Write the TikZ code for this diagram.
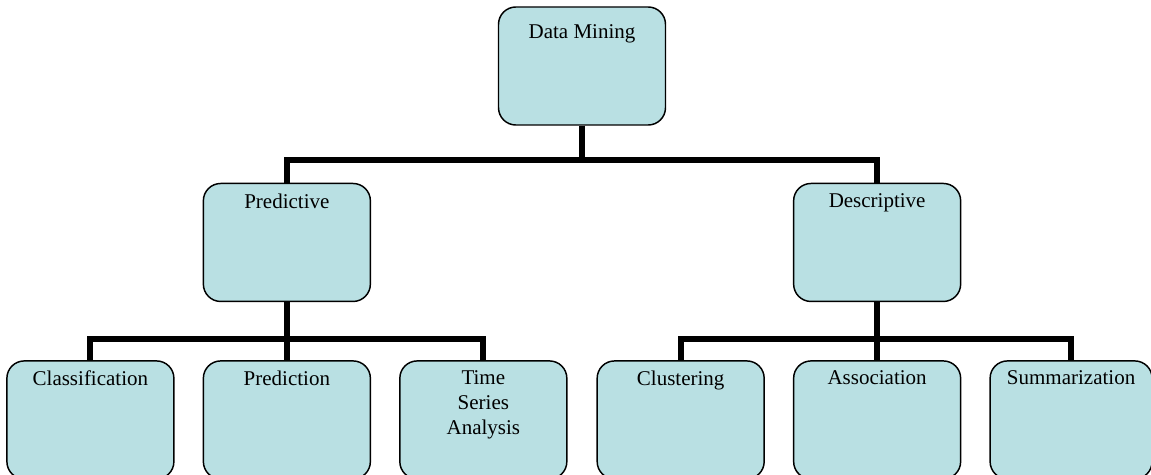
\documentclass[tikz,border=0pt]{standalone}
\usepackage{fontspec}
\setmainfont{Liberation Serif}
\usetikzlibrary{positioning}
\definecolor{boxfill}{RGB}{185,224,227}

\begin{document}
\begin{tikzpicture}[
    x = 0.75pt, y = -0.75pt, % one unit = one pixel of the reference
    node distance = 42.75pt and 21pt, % gaps between boxes
    box/.style = {draw = black, line width = 1.1pt, fill = boxfill,
        rounded corners = 13pt, minimum width = 125.25pt, minimum height = 88.5pt,
        label = {[anchor = north, yshift = -4.5pt, align = center,
            font = \fontsize{15.75pt}{18.75pt}\selectfont]north:#1}},
    link/.style = {line width = 4.5pt} % connector style
    ]

    \useasboundingbox (0,0) rectangle (1151,474);

    \node[box = {\rule{0pt}{16pt}Data Mining}] (dm) at (582,66) {};
    \node[box = {Predictive}] (pred) [below left = 42.75pt and 95pt of dm] {};
    \node[box = {Descriptive}] (desc) [below right = 42.75pt and 95pt of dm] {};

    \node[box = {Prediction}] (predn) [below = 43.5pt of pred] {};
    \node[box = {Classification}] (class) [left = of predn] {};
    \node[box = {Time\\Series\\Analysis}] (tsa) [right = of predn] {};

    \node[box = {Association}] (assoc) [below = 43.5pt of desc] {};
    \node[box = {Clustering}] (clust) [left = of assoc] {};
    \node[box = {Summarization}, minimum width = 121.5pt] (summ) [right = of assoc] {};

    \draw[link] (dm.south) -- ++(0,34) -| (pred.north);
    \draw[link] (dm.south) -- ++(0,34) -| (desc.north);

    \draw[link] (pred.south) -- (predn.north);
    \draw[link] (pred.south) -- ++(0,37) -| (class.north);
    \draw[link] (pred.south) -- ++(0,37) -| (tsa.north);

    \draw[link] (desc.south) -- (assoc.north);
    \draw[link] (desc.south) -- ++(0,37) -| (clust.north);
    \draw[link] (desc.south) -- ++(0,37) -| (summ.north);
\end{tikzpicture}
\end{document}
